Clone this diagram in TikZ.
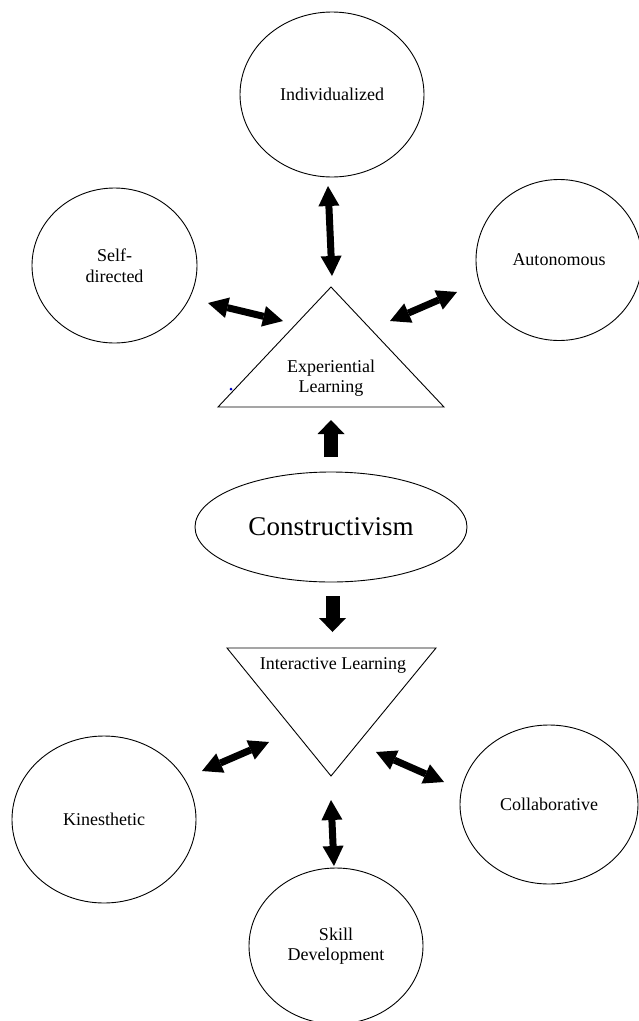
\documentclass[tikz,border=0pt]{standalone}
\usepackage{fontspec}
\setmainfont{Liberation Serif}
\usetikzlibrary{shapes.geometric,arrows.meta}
\begin{document}
\begin{tikzpicture}[x=1pt,y=-1pt,
  bubble/.style={draw,ellipse,line width=0.9pt,inner sep=0pt,
    font=\fontsize{18}{20.5}\selectfont,align=center},
  lbl/.style={font=\fontsize{18}{20.5}\selectfont,align=center,inner sep=0pt},
  tri/.style={draw,line width=0.9pt,line join=miter},
  dbl/.style={line width=7pt,
    {Triangle[width=21pt,length=20pt,line width=0pt]}-{Triangle[width=21pt,length=20pt,line width=0pt]}},
  blockarrow/.style={line width=14pt,-{Triangle[width=27pt,length=14pt,line width=0pt]}}
]
\clip (0,0) rectangle (639,1021);
\fill[white] (0,0) rectangle (639,1021);

% outer bubbles, upper group
\node[bubble,minimum width=184pt,minimum height=165pt] (ind) at (332,94.5) {Individualized};
\node[bubble,minimum width=165pt,minimum height=155pt] (self) at (114.5,265.5) {Self-\\directed};
\node[bubble,minimum width=166pt,minimum height=161pt] (aut) at (559,260) {Autonomous};

% experiential triangle
\coordinate (eA) at (331,287);
\coordinate (eL) at (218,407);
\coordinate (eR) at (444,407);
\draw[tri] (eA) -- (eL) -- (eR) -- cycle;
\node[lbl] (exp) at (331,378) {Experiential\\Learning};
\fill[blue!80!black] (231,389) circle (1.5pt);

% central ellipse
\node[bubble,minimum width=272pt,minimum height=110pt,
  font=\fontsize{27}{30}\selectfont] (con) at (331,527) {Constructivism};

% interactive triangle
\coordinate (iL) at (227,648);
\coordinate (iR) at (436,648);
\coordinate (iB) at (331,776);
\draw[tri] (iL) -- (iR) -- (iB) -- cycle;
\node[lbl] (int) at (333,665) {Interactive Learning};

% outer bubbles, lower group
\node[bubble,minimum width=184pt,minimum height=167pt] (kin) at (104,819.5) {Kinesthetic};
\node[bubble,minimum width=178pt,minimum height=159pt] (col) at (549,804.5) {Collaborative};
\node[bubble,minimum width=174pt,minimum height=156pt] (ski) at (336,946) {Skill\\Development};

% arrow end points
\coordinate (a1) at (328,186);   \coordinate (a2) at (332,276);
\coordinate (b1) at (208,303);   \coordinate (b2) at (283,321);
\coordinate (c1) at (390,321);   \coordinate (c2) at (457,292);
\coordinate (u1) at (331,457);   \coordinate (u2) at (331,420);
\coordinate (d1) at (332.5,596); \coordinate (d2) at (332.5,632);
\coordinate (k1) at (202,771);   \coordinate (k2) at (269,742);
\coordinate (l1) at (376,752);   \coordinate (l2) at (444,782);
\coordinate (s1) at (331,800);   \coordinate (s2) at (334,866);

\draw[dbl] (a1) -- (a2);
\draw[dbl] (b1) -- (b2);
\draw[dbl] (c1) -- (c2);
\draw[blockarrow] (u1) -- (u2);
\draw[blockarrow] (d1) -- (d2);
\draw[dbl] (k1) -- (k2);
\draw[dbl] (l1) -- (l2);
\draw[dbl] (s1) -- (s2);
\end{tikzpicture}
\end{document}
